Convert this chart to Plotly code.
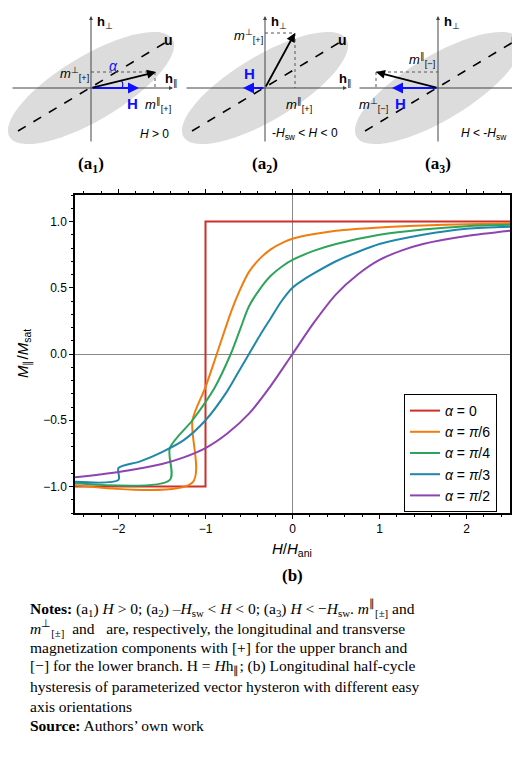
import numpy as np
import plotly.graph_objects as go

# curves (upper branch, then lower branch after the jump)
h_a0 = [2.5, -1.0, -1.0, -2.5]
m_a0 = [1.0, 1.0, -1.0, -1.0]

h_a6 = [2.5, 2.0, 1.5, 1.0, 0.5, 0.25, 0.0, -0.1, -0.25, -0.375, -0.5, -0.6, -0.7, -0.87, -1.0, -1.15, -1.15, -2.5]
m_a6 = [0.985, 0.98, 0.97, 0.955, 0.93, 0.905, 0.87, 0.845, 0.79, 0.72, 0.62, 0.49, 0.33, 0.0, -0.25, -0.5, -0.97, -0.99]

h_a4 = [2.5, 2.0, 1.5, 1.0, 0.5, 0.25, 0.0, -0.1, -0.25, -0.375, -0.5, -0.6, -0.71, -0.9, -1.15, -1.41, -1.41, -2.5]
m_a4 = [0.975, 0.965, 0.94, 0.9, 0.83, 0.78, 0.71, 0.67, 0.59, 0.49, 0.36, 0.19, 0.0, -0.26, -0.5, -0.71, -0.95, -0.975]

h_a3 = [2.5, 2.0, 1.5, 1.0, 0.75, 0.5, 0.25, 0.125, 0.0, -0.125, -0.25, -0.375, -0.5, -0.625, -0.75, -1.0, -1.25, -1.5, -1.75, -2.0, -2.0, -2.5]
m_a3 = [0.96, 0.945, 0.9, 0.83, 0.77, 0.7, 0.61, 0.56, 0.5, 0.4, 0.27, 0.14, 0.0, -0.14, -0.28, -0.5, -0.65, -0.74, -0.81, -0.86, -0.95, -0.965]

h_a2 = [2.5, 2.0, 1.5, 1.25, 1.0, 0.75, 0.5, 0.25, 0.0, -0.25, -0.5, -0.75, -1.0, -1.25, -1.5, -2.0, -2.5]
m_a2 = [0.93, 0.89, 0.83, 0.78, 0.71, 0.6, 0.45, 0.24, 0.0, -0.24, -0.45, -0.6, -0.71, -0.78, -0.83, -0.89, -0.93]

curves = [
    ("<i>α</i> = 0", h_a0, m_a0, "#cc3029", "linear"),
    ("<i>α</i> = <i>π</i>/6", h_a6, m_a6, "#f07d0e", "spline"),
    ("<i>α</i> = <i>π</i>/4", h_a4, m_a4, "#2ca45a", "spline"),
    ("<i>α</i> = <i>π</i>/3", h_a3, m_a3, "#1f88aa", "spline"),
    ("<i>α</i> = <i>π</i>/2", h_a2, m_a2, "#8e44b0", "spline"),
]

W, H = 520, 760
fig = go.Figure()
for name, hx, my, col, shp in curves:
    fig.add_trace(go.Scatter(x=hx, y=my, mode="lines", name=name,
                             line=dict(color=col, width=2, shape=shp, smoothing=0.8)))

sans = "Liberation Sans"
serif = "Liberation Serif"

ax_common = dict(showline=True, linecolor="black", linewidth=1.5, mirror="ticks",
                 ticks="outside", ticklen=4, tickcolor="black", showgrid=False,
                 zeroline=True, zerolinecolor="#888", zerolinewidth=1.2, automargin=False,
                 minor=dict(ticks="outside", ticklen=2, tickcolor="black"),
                 tickfont=dict(family=sans, size=12, color="black"))
fig.update_layout(
    width=W, height=H, margin=dict(l=0, r=0, t=0, b=0),
    paper_bgcolor="white", plot_bgcolor="white", showlegend=True,
    xaxis=dict(domain=[67 / W, 502 / W], range=[-2.5, 2.5], dtick=1,
               minor_dtick=0.2, anchor="y", **ax_common),
    yaxis=dict(domain=[1 - 505 / H, 1 - 187 / H], range=[-1.2, 1.2], dtick=0.5,
               tickformat=".1f", minor_dtick=0.1, anchor="x", **ax_common),
    xaxis2=dict(domain=[0, 1], range=[0, W], visible=False, anchor="y2", automargin=False),
    yaxis2=dict(domain=[1 - 180 / H, 1], range=[180, 0], visible=False, anchor="x2", automargin=False),
    legend=dict(x=396 / W, y=1 - 386 / H, xanchor="left", yanchor="top",
                bordercolor="black", borderwidth=1, bgcolor="white",
                font=dict(family=sans, size=14, color="black"),
                tracegroupgap=0),
)

ann = []
shapes = []


def txt(x, y, t, size=13, fam=sans, color="black", xa="center"):
    ann.append(dict(x=x, y=y, xref="x2", yref="y2", text=t, showarrow=False,
                    xanchor=xa, font=dict(family=fam, size=size, color=color)))


def arrow(x0, y0, x1, y1, color="black", width=1.2, head=2, size=1):
    ann.append(dict(x=x1, y=y1, ax=x0, ay=y0, xref="x2", yref="y2", axref="x2",
                    ayref="y2", text="", showarrow=True, arrowhead=head,
                    arrowsize=size, arrowwidth=width, arrowcolor=color))


def line(x0, y0, x1, y1, color="black", width=1, dash="solid"):
    shapes.append(dict(type="line", xref="x2", yref="y2", x0=x0, y0=y0, x1=x1,
                       y1=y1, line=dict(color=color, width=width, dash=dash)))


t = np.linspace(0, 2 * np.pi, 60)
for ox in [83, 257, 430]:
    # rotated ellipse around origin
    a, b, ang = 95, 32, np.radians(31)
    ex = ox + a * np.cos(t) * np.cos(ang) - b * np.sin(t) * np.sin(ang)
    ey = 80 - (a * np.cos(t) * np.sin(ang) + b * np.sin(t) * np.cos(ang))
    path = "M" + " L".join(f"{px:.1f},{py:.1f}" for px, py in zip(ex, ey)) + " Z"
    shapes.append(dict(type="path", xref="x2", yref="y2", path=path,
                       fillcolor="#dcdcdc", line=dict(width=0), layer="below"))
    arrow(ox - 80, 80, ox + 82, 80, color="#444", width=1, head=2, size=0.8)
    arrow(ox, 135, ox, 8, color="#444", width=1, head=2, size=0.8)
    line(ox - 73, 123, ox + 77, 33, width=1.6, dash="dash")
    txt(ox + 77, 32, "<b>u</b>", 14)
    txt(ox + 14, 14, "<b>h</b><sub>⊥</sub>", 13)
    txt(ox + 80, 71, "<b>h</b><sub>∥</sub>", 13)

# (a1)
line(83, 64, 147, 64, color="#555", dash="dot")
line(147, 64, 147, 80, color="#555", dash="dot")
arrow(83, 80, 131, 80, color="#1010ff", width=2.2)
arrow(83, 80, 148, 64, width=1.8)
shapes.append(dict(type="path", xref="x2", yref="y2", path="M 113,72 Q 116,76 114,80",
                   line=dict(color="#1010ff", width=1.2)))
txt(105, 58, "<i>α</i>", 14, color="#1010ff")
txt(66, 66, "<i>m</i><sup>⊥</sup><sub>[+]</sub>", 13)
txt(150, 97, "<i>m</i><sup>∥</sup><sub>[+]</sub>", 13)
txt(124, 95, "<b>H</b>", 15, color="#1010ff")
txt(146, 126, "<i>H</i> > 0", 12)
txt(83, 157, "<b>(a<sub>1</sub>)</b>", 17, fam=serif)

# (a2)
line(257, 25, 287, 25, color="#555", dash="dot")
line(287, 25, 287, 80, color="#555", dash="dot")
arrow(257, 80, 235, 80, color="#1010ff", width=2.2)
arrow(257, 80, 287, 25, width=1.8)
txt(240, 28, "<i>m</i><sup>⊥</sup><sub>[+]</sub>", 13)
txt(291, 97, "<i>m</i><sup>∥</sup><sub>[+]</sub>", 13)
txt(241, 65, "<b>H</b>", 15, color="#1010ff")
txt(297, 126, "-<i>H</i><sub>sw</sub> < <i>H</i> < 0", 12)
txt(257, 157, "<b>(a<sub>2</sub>)</b>", 17, fam=serif)

# (a3)
line(368, 64, 430, 64, color="#555", dash="dot")
line(368, 64, 368, 80, color="#555", dash="dot")
arrow(430, 80, 384, 80, color="#1010ff", width=2.2)
arrow(430, 80, 368, 64, width=1.8)
txt(414, 52, "<i>m</i><sup>∥</sup><sub>[−]</sub>", 13)
txt(365, 97, "<i>m</i><sup>⊥</sup><sub>[−]</sub>", 13)
txt(392, 95, "<b>H</b>", 15, color="#1010ff")
txt(476, 126, "<i>H</i> < -<i>H</i><sub>sw</sub>", 12)
txt(430, 157, "<b>(a<sub>3</sub>)</b>", 17, fam=serif)

# axis titles and caption, in paper pixels
def ptxt(x, y, t, size, fam=sans, xa="center", angle=0):
    ann.append(dict(x=x / W, y=1 - y / H, xref="paper", yref="paper", text=t,
                    showarrow=False, xanchor=xa, yanchor="middle", textangle=angle,
                    font=dict(family=fam, size=size, color="black")))


ptxt(284, 541, "<i>H</i>/<i>H</i><sub>ani</sub>", 15)
ptxt(284, 567, "<b>(b)</b>", 17, fam=serif)
ptxt(16, 346, "<i>M</i><sub>∥</sub>/<i>M</i><sub>sat</sub>", 15, angle=-90)

notes = [
    "<b>Notes:</b> (a<sub>1</sub>) <i>H</i> > 0; (a<sub>2</sub>) –<i>H</i><sub>sw</sub> < <i>H</i> < 0; "
    "(a<sub>3</sub>) <i>H</i> < −<i>H</i><sub>sw</sub>. <i>m</i><sup>∥</sup><sub>[±]</sub> and",
    "<i>m</i><sup>⊥</sup><sub>[±]</sub>  and   are, respectively, the longitudinal and transverse",
    "magnetization components with [+] for the upper branch and",
    "[−] for the lower branch. H = <i>H</i>h<sub>∥</sub>; (b) Longitudinal half-cycle",
    "hysteresis of parameterized vector hysteron with different easy",
    "axis orientations",
    "<b>Source:</b> Authors’ own work",
]
for i, s in enumerate(notes):
    ptxt(20, 600 + i * 19.6, s, 15.5, fam=serif, xa="left")

fig.update_layout(annotations=ann, shapes=shapes)
fig.write_html("out.html")
